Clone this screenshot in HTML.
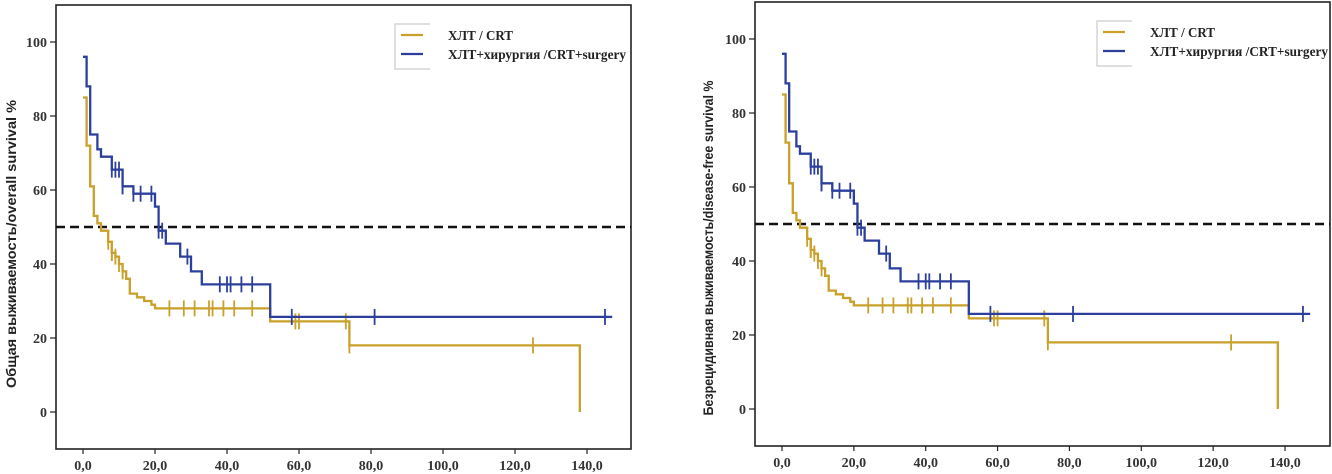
<!DOCTYPE html>
<html><head><meta charset="utf-8"><style>
html,body{margin:0;padding:0;background:#fff;width:1332px;height:474px;overflow:hidden}
svg{display:block}
text{font-family:"Liberation Serif","DejaVu Serif",serif}
</style></head><body>
<svg id="svg" width="1332" height="474" xmlns="http://www.w3.org/2000/svg"></svg>
<script>
// Shared data (times in months, survival %)
const crtTimes = [0, 1, 2, 3, 4, 5, 7, 8, 9, 10, 11, 12, 13, 15, 17, 19, 20, 52, 74, 138];
const crtSurv  = [85, 72, 61, 53, 51, 49, 46, 43, 42, 40, 38, 36, 32, 31, 30, 29, 28, 24.5, 18, 0];
const crtCensorT = [7, 8, 8, 9, 10, 11, 24, 28, 31, 35, 36, 39, 42, 47, 59, 60, 73, 74, 125];
const surgTimes = [0, 1, 2, 4, 5, 8, 11, 14, 20, 21, 23, 27, 30, 33, 52];
const surgSurv  = [96, 88, 75, 71, 69, 65.5, 61, 59, 55.5, 49, 45.5, 42, 38, 34.5, 25.7];
const surgCensorT = [8, 9, 10, 11, 11, 14, 16, 19, 21, 22, 29, 38, 40, 41, 44, 47, 58, 81, 145];
const crtEnd = 138, surgEnd = 147;
const xTicks = [0, 20, 40, 60, 80, 100, 120, 140];
const xTickLabels = ["0,0","20,0","40,0","60,0","80,0","100,0","120,0","140,0"];
const yTicks = [0, 20, 40, 60, 80, 100];
const legendLabels = ["ХЛТ / CRT", "ХЛТ+хирургия /CRT+surgery"];
const NS = "http://www.w3.org/2000/svg";
const svg = document.getElementById('svg');
function mk(tag, attrs, parent){const e=document.createElementNS(NS,tag);for(const k in attrs)e.setAttribute(k,attrs[k]);(parent||svg).appendChild(e);return e;}
function survAt(ts, ss, t){let v=ss[0];for(let i=0;i<ts.length;i++){if(ts[i]<=t)v=ss[i];}return v;}

const charts = [
 {box:[56,5,631,449], x0:83, x140:587, y0:412, y100:42, label:"Общая выживаемость/overall survival %", lx:16, ly:244, tl:288, legX:395},
 {box:[755,2,1330,446], x0:782, x140:1285, y0:409, y100:39, label:"Безрецидивная выживаемость/disease-free survival %", lx:713, ly:248, tl:335, legX:1097}
];
charts.forEach((c,ci)=>{
  const g = mk('g',{});
  
  
  const X = t => c.x0 + (c.x140-c.x0)*t/140;
  const Y = v => c.y0 + (c.y100-c.y0)*v/100;
  const [bl,bt,br,bb]=c.box;
  const frame = mk('rect',{x:bl,y:bt,width:br-bl,height:bb-bt,fill:'none',stroke:'#222','stroke-width':1.6},g);
  
  
  xTicks.forEach((t,i)=>{
    mk('line',{x1:X(t),x2:X(t),y1:bb,y2:bb+5,stroke:'#222','stroke-width':1.2},g);
    const tx=mk('text',{x:X(t),y:bb+21,'font-size':14,'font-weight':'bold','text-anchor':'middle',fill:'#333'},g);
    tx.textContent=xTickLabels[i];
    
    
  });
  yTicks.forEach(v=>{
    mk('line',{x1:bl-6,x2:bl,y1:Y(v),y2:Y(v),stroke:'#222','stroke-width':1.2},g);
    const tx=mk('text',{x:bl-9,y:Y(v)+5,'font-size':14,'font-weight':'bold','text-anchor':'end',fill:'#333'},g);
    tx.textContent=String(v);
    
    
  });
  const yl=mk('text',{x:c.lx,y:c.ly,'font-size':14,'font-weight':'bold','text-anchor':'middle',fill:'#222',textLength:c.tl,lengthAdjust:'spacingAndGlyphs',transform:`rotate(-90 ${c.lx} ${c.ly})`,style:'font-family:"Liberation Sans",sans-serif'},g);
  yl.textContent=c.label;
  
  
  const ref=mk('line',{x1:bl,x2:br,y1:Y(50),y2:Y(50),stroke:'#111','stroke-width':2.5,'stroke-dasharray':'9 5'},g);
  
  
  function curve(ts,ss,end,censor,color,name){
    let d=`M${X(ts[0])},${Y(ss[0])}`;
    for(let i=1;i<ts.length;i++){d+=` H${X(ts[i])} V${Y(ss[i])}`;}
    if(end>ts[ts.length-1]) d+=` H${X(end)}`;
    const p=mk('path',{d:d,fill:'none',stroke:color,'stroke-width':2.3},g);
    
    
    censor.forEach(t=>{
      const v=survAt(ts,ss,t);
      const m=mk('line',{x1:X(t),x2:X(t),y1:Y(v)-8,y2:Y(v)+8,stroke:color,'stroke-width':1.8},g);
      
      
    });
  }
  curve(crtTimes,crtSurv,crtEnd,crtCensorT,'#c9a02a','crt');
  curve(surgTimes,surgSurv,surgEnd,surgCensorT,'#2c3f9c','crt-surgery');
  const lg=mk('g',{},g);
  
  
  mk('path',{d:`M${c.legX+35},${bt+19} H${c.legX} V${bt+64} H${c.legX+35}`,fill:'none',stroke:'#ccc','stroke-width':1.2},lg);
  const cols=['#c9a02a','#2c3f9c'];
  legendLabels.forEach((s,i)=>{
    const yy=bt+30+i*19;
    const ln=mk('line',{x1:c.legX+6,x2:c.legX+28,y1:yy,y2:yy,stroke:cols[i],'stroke-width':2.2},lg);
    
    
    const t=mk('text',{x:c.legX+53,y:yy+5,'font-size':13.5,'font-weight':'bold',fill:'#222',textLength:i?178:65,lengthAdjust:'spacingAndGlyphs'},lg);
    t.textContent=s;
    
    
  });
});
</script>
</body></html>
